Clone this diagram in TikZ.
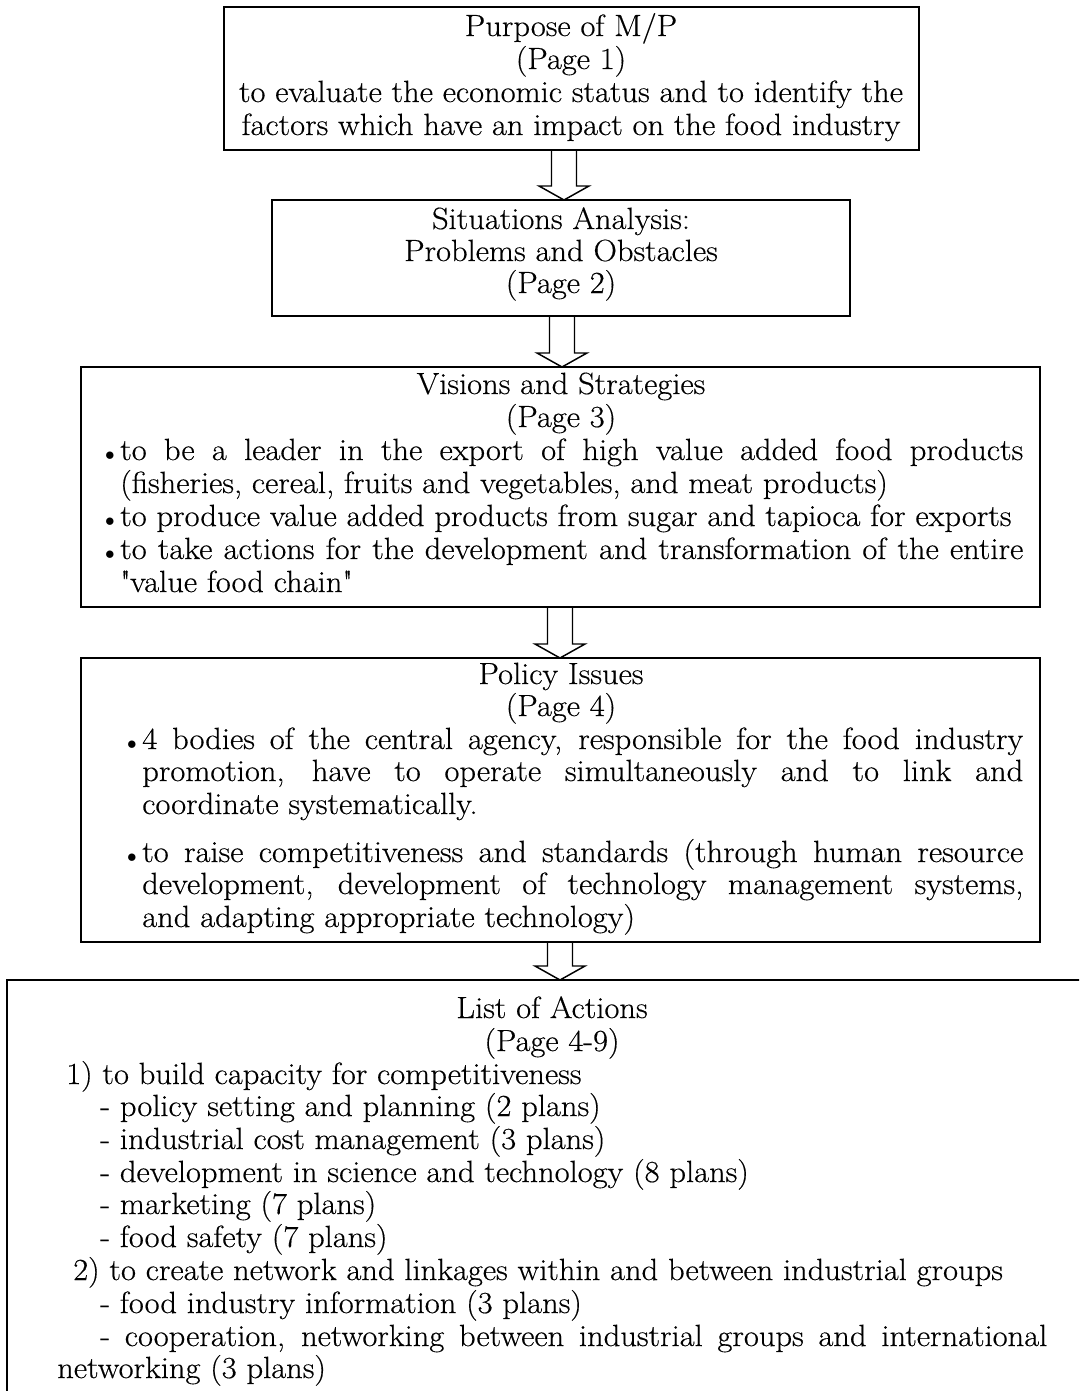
\documentclass[tikz,border=0pt]{standalone}
\usepackage{fontspec}
\setmainfont{Latin Modern Roman}[FakeStretch=1.06,FakeBold=0.4]
\usetikzlibrary{calc}
\newcommand\fs{\fontsize{23}{24.75}\selectfont}
\newcommand\jl[2]{\makebox[#1][s]{#2}}
\newcommand\bul{{\fontsize{15}{15}\selectfont$\bullet$}}
\newcommand\blkarrow[3]{%
  \draw[blk] ($(#3,0 |- #1.south)+(-12.5,0)$) -- ($(#3,0 |- #2.north)+(-12.5,-14)$)
    -- ($(#3,0 |- #2.north)+(-25,-14)$) -- (#3,0 |- #2.north)
    -- ($(#3,0 |- #2.north)+(25,-14)$) -- ($(#3,0 |- #2.north)+(12.5,-14)$)
    -- ($(#3,0 |- #1.south)+(12.5,0)$);}
\begin{document}
\begin{tikzpicture}[x=0.75pt,y=-0.75pt,
  box/.style={draw, line width=1.5pt, anchor=north west, inner sep=0pt, outer sep=0pt},
  txt/.style={inner sep=0pt, anchor=base, font=\fs},
  txtl/.style={txt, anchor=base west},
  blk/.style={draw, line width=1.1pt, line join=miter}]
\useasboundingbox (0,0) rectangle (1079,1391);
\clip (0,0) rectangle (1079,1391);
% boxes
\node[box, minimum width=521.25pt, minimum height=107.25pt] (b1) at (224,7) {};
\node[box, minimum width=433.5pt, minimum height=87pt] (b2) at (272,200) {};
\node[box, minimum width=719.25pt, minimum height=180pt] (b3) at (81,367) {};
\node[box, minimum width=719.25pt, minimum height=213pt] (b4) at (81,658) {};
\node[box, minimum width=819.75pt, minimum height=331.5pt] (b5) at (7,980) {};
% arrows
\blkarrow{b1}{b2}{564}
\blkarrow{b2}{b3}{562}
\blkarrow{b3}{b4}{560}
\blkarrow{b4}{b5}{560}
% box 1
\node[txt] (t11) at (571,36) {Purpose of M/P};
\node[txt] (t12) at (571,69) {(Page 1)};
\node[txt] (t13) at (571,102) {to evaluate the economic status and to identify the};
\node[txt] (t14) at (571,135) {factors which have an impact on the food industry};
% box 2
\node[txt] (t21) at (561,229) {Situations Analysis:};
\node[txt] (t22) at (561,261) {Problems and Obstacles};
\node[txt] (t23) at (561,293) {(Page 2)};
% box 3
\node[txt] (t31) at (561,394) {Visions and Strategies};
\node[txt] (t32) at (561,427) {(Page 3)};
\node[txt] (t3b1) at (110,460) {\bul};
\node[txtl] (t33) at (120,460) {\jl{677.25pt}{to be a leader in the export of high value added food products}};
\node[txtl] (t34) at (120,493) {(fisheries, cereal, fruits and vegetables, and meat products)};
\node[txt] (t3b2) at (110,526) {\bul};
\node[txtl] (t35) at (120,526) {to produce value added products from sugar and tapioca for exports};
\node[txt] (t3b3) at (110,559) {\bul};
\node[txtl] (t36) at (120,559) {\jl{677.25pt}{to take actions for the development and transformation of the entire}};
\node[txtl] (t37) at (120,592) {\textquotedbl value food chain\textquotedbl};
% box 4
\node[txt] (t41) at (561,684) {Policy Issues};
\node[txt] (t42) at (561,716) {(Page 4)};
\node[txt] (t4b1) at (132,749) {\bul};
\node[txtl] (t43) at (142,749) {\jl{660.75pt}{4 bodies of the central agency, responsible for the food industry}};
\node[txtl] (t44) at (142,781) {\jl{660.75pt}{promotion, have to operate simultaneously and to link and}};
\node[txtl] (t45) at (142,814) {coordinate systematically.};
\node[txt] (t4b2) at (132,862) {\bul};
\node[txtl] (t46) at (142,862) {\jl{660.75pt}{to raise competitiveness and standards (through human resource}};
\node[txtl] (t47) at (142,894) {\jl{660.75pt}{development, development of technology management systems,}};
\node[txtl] (t48) at (142,927) {and adapting appropriate technology)};
% box 5
\node[txt] (t51) at (552,1018) {List of Actions};
\node[txt] (t52) at (552,1051) {(Page 4-9)};
\node[txtl] (t53) at (66,1084) {1) to build capacity for competitiveness};
\node[txtl] (t54) at (100,1116) {- policy setting and planning (2 plans)};
\node[txtl] (t55) at (100,1149) {- industrial cost management (3 plans)};
\node[txtl] (t56) at (100,1182) {- development in science and technology (8 plans)};
\node[txtl] (t57) at (100,1214) {- marketing (7 plans)};
\node[txtl] (t58) at (100,1247) {- food safety (7 plans)};
\node[txtl] (t59) at (73,1280) {2) to create network and linkages within and between industrial groups};
\node[txtl] (t510) at (100,1313) {- food industry information (3 plans)};
\node[txtl] (t511) at (100,1346) {\jl{710.25pt}{- cooperation, networking between industrial groups and international}};
\node[txtl] (t512) at (57,1378) {networking (3 plans)};
\end{tikzpicture}
\end{document}
